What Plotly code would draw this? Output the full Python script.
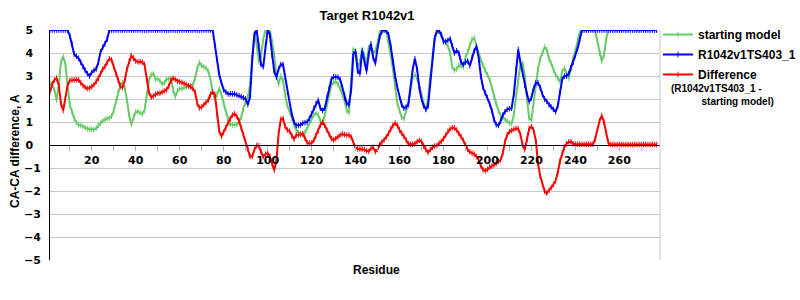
import plotly.graph_objects as go

residues = list(range(1, 278))

starting_model = [
    2.68, 2.6, 2.4, 1.95, 2.6, 3.6, 3.85, 3.5, 2.6, 1.75,
    1.45, 1.15, 0.98, 0.88, 0.85, 0.82, 0.75, 0.7, 0.68, 0.68,
    0.68, 0.72, 0.85, 0.95, 1.05, 1.12, 1.15, 1.17, 1.25, 1.5,
    1.9, 2.3, 2.6, 2.72, 2.5, 1.95, 1.3, 0.9, 1.2, 1.45,
    1.45, 1.4, 1.35, 1.5, 2.2, 2.8, 3.05, 3.1, 2.85, 2.88,
    2.8, 2.65, 2.7, 2.85, 2.88, 2.9, 2.4, 2.1, 2.35, 2.45,
    2.45, 2.5, 2.52, 2.55, 2.58, 2.62, 2.9, 3.35, 3.58, 3.45,
    3.4, 3.35, 3.2, 2.85, 2.3, 2.0, 2.2, 2.45, 2.2, 1.8,
    1.45, 1.15, 0.9, 0.87, 0.87, 0.9, 1.0, 1.2, 1.6, 1.85,
    2.1, 2.6, 3.9, 4.9, 4.4, 3.6, 3.9, 4.6, 5.0, 5.0,
    5.0, 4.5, 3.9, 3.05, 2.65, 3.0, 2.8, 2.15, 1.7, 1.45,
    1.15, 0.85, 0.65, 0.55, 0.5, 0.43, 0.55, 0.75, 0.95, 1.1,
    1.3, 1.38, 1.3, 1.05, 0.95, 1.3, 1.75, 2.3, 2.6, 2.72,
    2.75, 2.65, 2.45, 2.2, 1.9, 1.5, 1.4, 2.9, 4.15, 4.1,
    3.4, 3.6, 4.15, 3.9, 3.5, 4.25, 4.3, 4.0, 4.1, 4.45,
    4.9, 5.0, 5.0, 4.95, 4.5, 3.9, 3.3, 2.5, 1.8, 1.5,
    1.2, 1.15, 1.5, 1.8, 2.4, 2.95, 3.05, 2.9, 2.6, 2.2,
    1.8, 1.55, 2.0, 3.0, 3.9, 4.6, 4.93, 4.93, 4.8, 4.55,
    4.45, 4.3, 4.0, 3.4, 3.25, 3.3, 3.45, 3.45, 3.4, 3.8,
    4.05, 4.35, 4.6, 4.64, 4.3, 3.95, 3.7, 3.45, 3.25, 3.05,
    2.85, 2.5, 2.1, 1.8, 1.5, 1.3, 1.18, 1.1, 1.05, 0.95,
    0.93, 1.3, 2.1, 2.8, 3.5, 3.55, 3.0, 2.0, 1.15, 1.1,
    1.9, 2.6, 3.3, 3.75, 4.0, 4.25, 4.15, 3.75, 3.55, 3.25,
    3.05, 2.9, 2.75, 3.2, 3.33, 3.12, 2.9, 3.35, 3.8, 4.1,
    4.5, 4.9, 5.0, 5.0, 5.0, 5.0, 5.0, 5.0, 5.0, 4.5,
    4.0, 3.65, 3.9, 4.6, 5.0, 5.0, 5.0, 5.0, 5.0, 5.0,
    5.0, 5.0, 5.0, 5.0, 5.0, 5.0, 5.0, 5.0, 5.0, 5.0,
    5.0, 5.0, 5.0, 5.0, 5.0, 5.0, 5.0,
]

model = [
    5.0, 5.0, 5.0, 5.0, 5.0, 5.0, 5.0, 5.0, 5.0, 4.75,
    4.4, 3.95, 3.85, 3.77, 3.6, 3.4, 3.25, 3.1, 3.0, 3.15,
    3.25, 3.3, 3.6, 4.05, 4.25, 4.4, 4.6, 5.0, 5.0, 5.0,
    5.0, 5.0, 5.0, 5.0, 5.0, 5.0, 5.0, 5.0, 5.0, 5.0,
    5.0, 5.0, 5.0, 5.0, 5.0, 5.0, 5.0, 5.0, 5.0, 5.0,
    5.0, 5.0, 5.0, 5.0, 5.0, 5.0, 5.0, 5.0, 5.0, 5.0,
    5.0, 5.0, 5.0, 5.0, 5.0, 5.0, 5.0, 5.0, 5.0, 5.0,
    5.0, 5.0, 5.0, 5.0, 5.0, 4.35, 3.7, 3.05, 2.7, 2.4,
    2.3, 2.22, 2.22, 2.22, 2.22, 2.17, 2.15, 2.1, 2.05, 2.0,
    1.75, 2.1, 3.7, 4.8, 5.0, 4.35, 3.5, 3.4, 4.35, 5.0,
    4.8, 3.9, 3.2, 2.95, 3.3, 3.5, 3.5, 2.95, 2.3, 1.85,
    1.35, 1.0, 0.85, 0.85, 0.88, 0.95, 0.97, 1.0, 1.15, 1.35,
    1.6, 1.8, 1.95, 1.6, 1.5, 1.6, 2.05, 2.45, 2.85, 2.97,
    2.97, 2.95, 2.85, 2.5, 2.05, 1.8, 1.75, 2.4, 3.95, 4.05,
    3.2, 3.1, 4.1, 3.6, 3.2, 3.95, 4.4, 3.8, 3.55, 4.2,
    4.7, 4.96, 5.0, 4.96, 4.8, 4.3, 3.6, 3.0, 2.5, 2.1,
    1.75, 1.6, 1.65, 1.75, 2.45, 3.3, 3.75, 3.3, 2.5, 2.0,
    1.7, 1.55, 1.7, 2.8, 3.9, 4.65, 4.96, 4.96, 4.8, 4.5,
    4.5, 4.55, 4.62, 4.3, 4.0, 4.1, 4.0, 3.6, 3.5, 3.6,
    3.65, 3.45, 3.8, 4.1, 4.28, 3.8, 3.0, 2.5, 2.25, 2.05,
    1.8, 1.5, 1.1, 0.88, 0.85, 1.05, 1.3, 1.45, 1.55, 1.58,
    1.6, 2.2, 3.3, 4.15, 3.6, 3.1, 2.6, 2.2, 1.88, 2.05,
    2.45, 2.7, 2.7, 2.5, 2.2, 2.0, 1.9, 1.75, 1.65, 1.55,
    1.45, 1.7, 2.3, 2.85, 3.0, 3.0, 3.1, 3.35, 3.6, 3.9,
    4.2, 4.6, 5.0, 5.0, 5.0, 5.0, 5.0, 5.0, 5.0, 5.0,
    5.0, 5.0, 5.0, 5.0, 5.0, 5.0, 5.0, 5.0, 5.0, 5.0,
    5.0, 5.0, 5.0, 5.0, 5.0, 5.0, 5.0, 5.0, 5.0, 5.0,
    5.0, 5.0, 5.0, 5.0, 5.0, 5.0, 5.0,
]

difference = [
    2.3, 2.65, 2.83, 2.9, 2.6, 1.8, 1.5, 2.0, 2.6, 2.8,
    2.83, 2.83, 2.84, 2.83, 2.7, 2.58, 2.5, 2.46, 2.48, 2.54,
    2.62, 2.75, 2.9, 3.1, 3.3, 3.4, 3.6, 3.75, 3.7, 3.4,
    3.1, 2.8, 2.55, 2.5, 2.8, 3.3, 3.65, 3.88, 3.78, 3.65,
    3.62, 3.62, 3.6, 3.5, 2.9, 2.3, 2.08, 2.12, 2.2, 2.25,
    2.25, 2.3, 2.35, 2.4, 2.55, 2.8, 2.9, 2.85, 2.78, 2.75,
    2.72, 2.68, 2.62, 2.58, 2.52, 2.45, 2.3, 1.8, 1.62, 1.65,
    1.75, 1.85, 1.95, 2.2, 2.3, 2.2, 1.3, 0.6, 0.38, 0.55,
    0.75, 0.95, 1.15, 1.3, 1.35, 1.25, 1.05, 0.75, 0.45, 0.15,
    -0.15, -0.5, -0.5, -0.2, -0.03, -0.03, -0.3, -0.5, -0.4, -0.35,
    -0.5, -0.8, -1.1, -0.7, 0.5, 1.12, 1.15, 0.8, 0.65, 0.6,
    0.4, 0.25, 0.43, 0.43, 0.45, 0.5, 0.3, 0.1, 0.07, 0.08,
    0.2, 0.4, 0.6, 0.87, 0.99, 0.85, 0.65, 0.45, 0.28, 0.22,
    0.27, 0.35, 0.43, 0.48, 0.45, 0.43, 0.43, 0.35, 0.1, -0.12,
    -0.17, -0.17, -0.17, -0.2, -0.25, -0.28, -0.15, -0.1, -0.29, -0.2,
    0.02, 0.12, 0.22, 0.35, 0.5, 0.7, 0.85, 0.95, 0.85, 0.65,
    0.52, 0.38, 0.22, 0.05, 0.03, 0.02, 0.07, 0.14, 0.2, 0.15,
    -0.05, -0.2, -0.32, -0.2, -0.1, -0.05, -0.02, 0.08, 0.15, 0.28,
    0.42, 0.6, 0.7, 0.75, 0.74, 0.65, 0.5, 0.38, 0.2, 0.0,
    -0.2, -0.3, -0.36, -0.4, -0.5, -0.65, -0.9, -1.08, -1.12, -1.05,
    -0.96, -0.92, -0.87, -0.8, -0.72, -0.65, -0.35, 0.15, 0.45, 0.58,
    0.63, 0.68, 0.72, 0.7, 0.45, 0.0, -0.2, 0.25, 0.72, 0.8,
    0.65, 0.2, -0.8, -1.35, -1.7, -2.0, -2.1, -1.98, -1.85, -1.72,
    -1.55, -1.2, -0.7, -0.35, -0.1, 0.05, 0.13, 0.14, 0.05, 0.03,
    0.03, 0.03, 0.03, 0.03, 0.03, 0.03, 0.03, 0.03, 0.25, 0.7,
    1.05, 1.28, 1.0, 0.55, 0.1, 0.02, 0.02, 0.02, 0.02, 0.02,
    0.02, 0.02, 0.02, 0.02, 0.02, 0.02, 0.02, 0.02, 0.02, 0.02,
    0.02, 0.02, 0.02, 0.02, 0.02, 0.02, 0.02,
]

y_tick_values = [5, 4, 3, 2, 1, 0, -1, -2, -3, -4, -5]
y_tick_labels = ["5", "4", "3", "2", "1", "0", "\u22121", "\u22122", "\u22123", "\u22124", "\u22125"]
x_tick_values = [10, 20, 30, 40, 50, 60, 70, 80, 90, 100, 110, 120, 130, 140,
                 150, 160, 170, 180, 190, 200, 210, 220, 230, 240, 250, 260, 270]
x_tick_labels = ["", "20", "", "40", "", "60", "", "80", "", "100", "", "120", "", "140",
                 "", "160", "", "180", "", "200", "", "220", "", "240", "", "260", ""]

series_names = ["starting model", "R1042v1TS403_1", "Difference"]
series_colors = ["#66cc66", "#0000ff", "#ff0000"]

W, H = 800, 300
L, R, T, B = 50, 140, 30, 40
pw, ph = W - L - R, H - T - B

def px_x(p):
    return (p - L) / pw

def px_y(p):
    return (H - B - p) / ph

fig = go.Figure()
for i, (name, vals, col) in enumerate(zip(series_names, [starting_model, model, difference], series_colors)):
    fig.add_trace(go.Scatter(
        x=residues, y=vals, name=name, mode="lines+markers", legendgroup="g%d" % i,
        line=dict(color=col, width=2),
        marker=dict(symbol="line-ns", size=4, line=dict(color=col, width=1), color=col),
    ))

# pad non-negative labels so labels appear left-aligned like the original
y_ticktext = [t if t.startswith("\u2212") else t + "\u2007" for t in y_tick_labels]

fig.update_layout(
    width=W, height=H,
    margin=dict(l=L, r=R, t=T, b=B, pad=0, autoexpand=False),
    paper_bgcolor="white", plot_bgcolor="white",
    showlegend=True,
    legend=dict(
        x=px_x(658), y=px_y(20), xanchor="left", yanchor="top",
        font=dict(family="Liberation Sans, Arial", size=12, color="black", weight="bold"),
        bgcolor="rgba(0,0,0,0)", itemwidth=30, tracegroupgap=1,
    ),
    title=dict(
        text="Target R1042v1", x=367 / W, y=1 - 15 / H, xref="container", yref="container",
        xanchor="center", yanchor="middle",
        font=dict(family="Liberation Sans, Arial", size=13, color="black", weight="bold"),
    ),
    xaxis=dict(
        range=[1, 278.5], anchor="free", position=0.5,
        showline=True, linecolor="black", linewidth=1,
        showgrid=False, zeroline=False,
        tickmode="array", tickvals=x_tick_values, ticktext=x_tick_labels,
        ticks="outside", ticklen=5, tickcolor="#b4b4b4", tickwidth=1,
        tickfont=dict(family="DejaVu Sans, Verdana", size=11, color="black", weight="bold"),
    ),
    yaxis=dict(
        range=[-5, 5], showline=True, linecolor="black", linewidth=1,
        showgrid=True, gridcolor="#c8c8c8", gridwidth=1, zeroline=False,
        tickmode="array", tickvals=y_tick_values, ticktext=y_ticktext,
        ticks="", ticklabelstandoff=6,
        tickfont=dict(family="DejaVu Sans, Verdana", size=11, color="black", weight="bold"),
    ),
    shapes=[
        dict(type="line", xref="paper", yref="paper", x0=1, x1=1, y0=0, y1=1,
             line=dict(color="#c8c8c8", width=1)),
    ],
    annotations=[
        dict(text="Residue", xref="paper", yref="paper", x=px_x(376), y=px_y(270),
             xanchor="center", yanchor="middle", showarrow=False,
             font=dict(family="Liberation Sans, Arial", size=12, color="black", weight="bold")),
        dict(text="CA-CA difference, A", xref="paper", yref="paper", x=px_x(15), y=px_y(151),
             xanchor="center", yanchor="middle", showarrow=False, textangle=-90,
             font=dict(family="Liberation Sans, Arial", size=12, color="black", weight="bold")),
        dict(text="(R1042v1TS403_1 -<br>" + "\u00a0" * 11 + "starting model)",
             xref="paper", yref="paper", x=px_x(669), y=px_y(81),
             xanchor="left", yanchor="top", align="left", showarrow=False,
             font=dict(family="Liberation Sans, Arial", size=10, color="black", weight="bold")),
    ],
)

fig.write_html("out.html")
